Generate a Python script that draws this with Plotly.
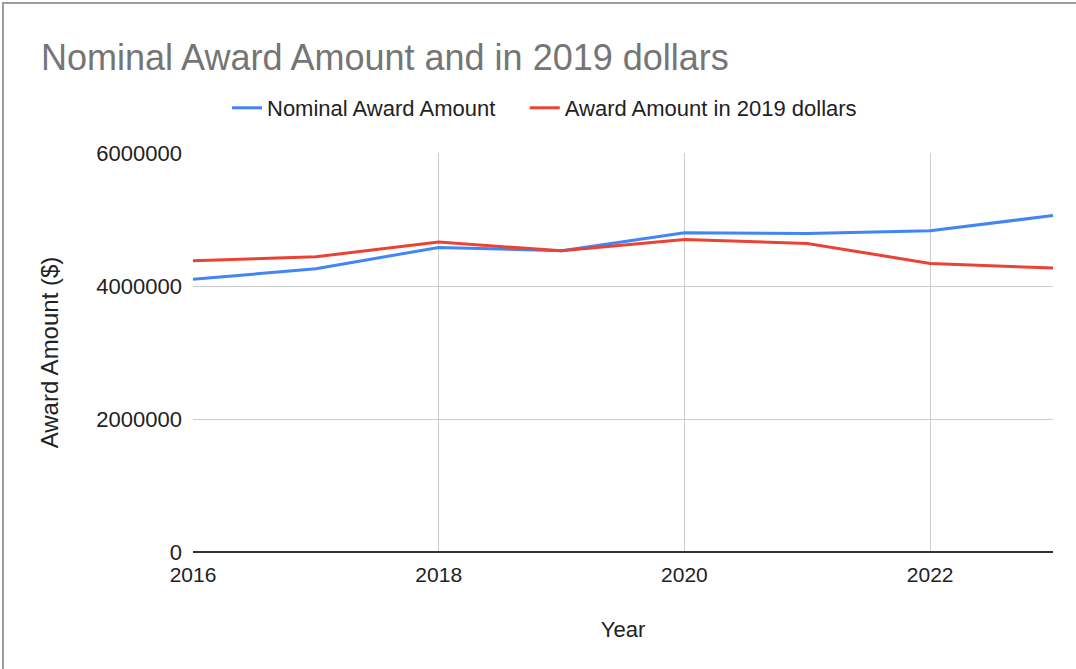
import plotly.graph_objects as go

years = [2016, 2017, 2018, 2019, 2020, 2021, 2022, 2023]
nominal = [4100000, 4260000, 4580000, 4530000, 4800000, 4790000, 4830000, 5060000]
real_2019 = [4380000, 4440000, 4660000, 4530000, 4700000, 4640000, 4340000, 4270000]
y_ticks = [0, 2000000, 4000000, 6000000]
x_ticks = [2016, 2018, 2020, 2022]
series_names = ["Nominal Award Amount", "Award Amount in 2019 dollars"]

FONT = "Liberation Sans, Arial, sans-serif"
TXT = "#222222"
PAD = "\u00a0" * 4  # extra spacing between legend entries

fig = go.Figure()
fig.add_trace(go.Scatter(x=years, y=nominal, mode="lines", name=series_names[0] + PAD,
                         line=dict(color="#4285F4", width=3)))
fig.add_trace(go.Scatter(x=years, y=real_2019, mode="lines", name=series_names[1],
                         line=dict(color="#EA4335", width=3)))

fig.update_layout(
    width=1076, height=669,
    margin=dict(l=193, r=23, t=153, b=117),
    paper_bgcolor="white", plot_bgcolor="white",
    font=dict(family=FONT, color=TXT),
    title=dict(text="Nominal Award Amount and in 2019 dollars", x=41/1076, xanchor="left",
               y=1-57/669, yanchor="middle",
               font=dict(size=36, color="#757575", family=FONT)),
    legend=dict(orientation="h", x=(227-193)/860, xanchor="left", y=1 + 45/399, yanchor="middle",
                font=dict(size=22, color=TXT), itemwidth=30),
    showlegend=True,
)
fig.update_xaxes(range=[2016, 2023], tickvals=x_ticks, ticktext=[str(v) for v in x_ticks],
                 showgrid=True, gridcolor="#cccccc", gridwidth=1, zeroline=False,
                 showline=False, ticks="", ticklabelstandoff=8,
                 tickfont=dict(size=21, color=TXT),
                 title=dict(text="Year", font=dict(size=22, color=TXT), standoff=36))
fig.update_yaxes(range=[0, 6000000], tickvals=y_ticks, ticktext=[str(v) for v in y_ticks],
                 showgrid=True, gridcolor="#cccccc", gridwidth=1, zeroline=True,
                 zerolinecolor="#333333", zerolinewidth=2,
                 showline=False, ticks="", ticklabelstandoff=10,
                 tickfont=dict(size=22, color=TXT),
                 title=dict(text="Award Amount ($)", font=dict(size=24, color=TXT), standoff=30))
fig.add_shape(type="rect", xref="paper", yref="paper",
              x0=(3-193)/860, x1=(1090-193)/860, y0=-(680-552)/399, y1=1+(153-3)/399,
              line=dict(color="#9e9e9e", width=2), fillcolor="rgba(0,0,0,0)", layer="below")
fig.write_html("out.html", config={"displayModeBar": False},
               post_script="document.body.style.margin='0px';")
